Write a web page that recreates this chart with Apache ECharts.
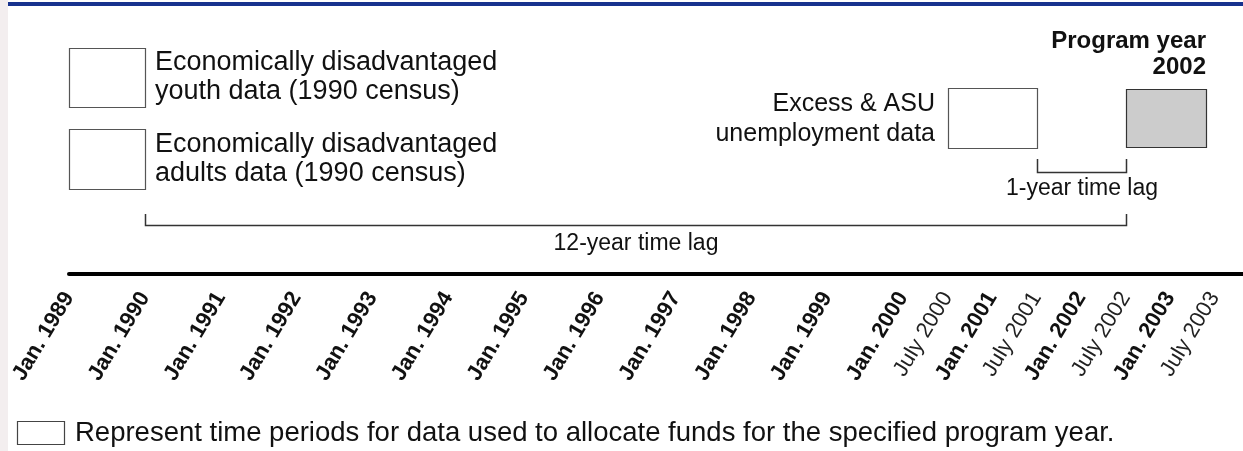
<!DOCTYPE html>
<html>
<head>
<meta charset="utf-8">
<script src="https://cdn.jsdelivr.net/npm/echarts@6/dist/echarts.min.js"></script>
<style>
  html, body { margin: 0; padding: 0; background: #fff; }
  #chart { width: 1243px; height: 451px; }
</style>
</head>
<body>
<div id="chart"></div>
<script>
// axis ticks, in decimal years (.5 = July)
const janYears = [1989, 1990, 1991, 1992, 1993, 1994, 1995, 1996, 1997, 1998, 1999];
const janLabels = ['Jan. 1989', 'Jan. 1990', 'Jan. 1991', 'Jan. 1992', 'Jan. 1993', 'Jan. 1994',
  'Jan. 1995', 'Jan. 1996', 'Jan. 1997', 'Jan. 1998', 'Jan. 1999'];
const recentTicks = [2000, 2000.5, 2001, 2001.5, 2002, 2002.5, 2003, 2003.5];
const recentLabels = ['Jan. 2000', 'July 2000', 'Jan. 2001', 'July 2001', 'Jan. 2002', 'July 2002',
  'Jan. 2003', 'July 2003'];

// data periods (census era, left part of the timeline)
const censusNames = ['Economically disadvantaged\nyouth data (1990 census)',
  'Economically disadvantaged\nadults data (1990 census)'];
const censusStart = [1989, 1989];
const censusEnd = [1990, 1990];

// data periods (recent, right part of the timeline)
const recentNames = ['Excess & ASU\nunemployment data', 'Program year\n2002'];
const recentStart = [2000.5, 2002.5];
const recentEnd = [2001.5, 2003.4];

// time lags
const lagNames = ['12-year time lag', '1-year time lag'];
const lagStart = [1990, 2001.5];
const lagEnd = [2002.5, 2002.5];

const FONT = '"Liberation Sans", Arial, Helvetica, sans-serif';
const INK = '#111';

// layout of the boxes / captions (pixels)
const censusLayout = [
  {top: 48, height: 59, caption: 'right', fontSize: 27, lineHeight: 29},
  {top: 129, height: 60, caption: 'right', fontSize: 27, lineHeight: 29}
];
const recentLayout = [
  {top: 88, height: 60, caption: 'left', fontSize: 25, lineHeight: 30},
  {top: 89, height: 58, caption: 'above', fontSize: 24, lineHeight: 26, fontWeight: 'bold',
    fill: '#cccccc', stroke: '#333'}
];
const lagLayout = [
  {tickTop: 214, lineY: 225, textY: 244},
  {tickTop: 159, lineY: 172, textY: 189}
];

function periodRenderer(names, layout) {
  return function (params, api) {
    const i = params.dataIndex;
    const L = layout[i];
    const x0 = Math.round(api.coord([api.value(0), 0])[0]);
    const x1 = Math.round(api.coord([api.value(1), 0])[0]);
    let tx, ty, align;
    if (L.caption === 'right') {
      tx = x1 + 10; ty = L.top + L.height / 2; align = 'left';
    } else if (L.caption === 'left') {
      tx = x0 - 13; ty = L.top + L.height / 2 + 1; align = 'right';
    } else {
      tx = x1; ty = L.top - 35; align = 'right';
    }
    return {
      type: 'group',
      children: [
        {
          type: 'rect',
          shape: {x: x0 + 0.5, y: L.top + 0.5, width: x1 - x0, height: L.height},
          style: {fill: L.fill || '#fff', stroke: L.stroke || '#555', lineWidth: 1.2}
        },
        {
          type: 'text',
          style: {
            text: names[i], x: tx, y: ty, align: align, verticalAlign: 'middle',
            fontSize: L.fontSize, lineHeight: L.lineHeight, fontWeight: L.fontWeight || 'normal',
            fontFamily: FONT, fill: INK
          }
        }
      ]
    };
  };
}

function axisCommon() {
  return {
    type: 'value',
    axisLine: {show: true, lineStyle: {color: '#000', width: 4}},
    axisTick: {show: false},
    splitLine: {show: false}
  };
}

const chart = echarts.init(document.getElementById('chart'));

const staticGraphics = [
  {id: 'leftStrip', type: 'rect', left: 0, top: 0, shape: {width: 8, height: 451},
    style: {fill: '#f3eeef'}, silent: true},
  {id: 'topBar', type: 'rect', left: 8, top: 2, shape: {width: 1235, height: 4},
    style: {fill: '#17328e'}, silent: true},
  {id: 'noteBox', type: 'rect', shape: {x: 17.5, y: 421.5, width: 47, height: 23},
    style: {fill: '#fff', stroke: '#444', lineWidth: 1.2}},
  {id: 'noteText', type: 'text', x: 75, y: 433,
    style: {text: 'Represent time periods for data used to allocate funds for the specified program year.',
      fontSize: 27.5, fontFamily: FONT, fill: INK, verticalAlign: 'middle', align: 'left'}}
];

chart.setOption({
  backgroundColor: '#fff',
  animation: false,
  grid: [
    {left: 69, top: 0, width: 834, height: 274, outerBoundsMode: 'none'},
    {left: 903, top: 0, width: 340, height: 274, outerBoundsMode: 'none'}
  ],
  xAxis: [
    Object.assign(axisCommon(), {
      gridIndex: 0, min: 1989, max: 2000,
      axisLabel: {
        customValues: janYears, rotate: 59, margin: 20,
        fontSize: 22, fontWeight: 'bold', fontFamily: FONT, color: INK,
        formatter: v => janLabels[janYears.indexOf(v)]
      }
    }),
    Object.assign(axisCommon(), {
      gridIndex: 1, min: 2000, max: 2003.82,
      axisLabel: {
        customValues: recentTicks, rotate: 59, margin: 20, fontFamily: FONT, color: INK,
        formatter: v => {
          const s = recentLabels[recentTicks.indexOf(v)];
          return s.indexOf('Jan') === 0 ? '{b|' + s + '}' : '{r|' + s + '}';
        },
        rich: {
          b: {fontSize: 22, fontWeight: 'bold', fontFamily: FONT, color: INK},
          r: {fontSize: 22, fontWeight: 'normal', fontFamily: FONT, color: '#222'}
        }
      }
    })
  ],
  yAxis: [
    {gridIndex: 0, type: 'value', min: 0, max: 1, show: false},
    {gridIndex: 1, type: 'value', min: 0, max: 1, show: false}
  ],
  series: [
    {
      type: 'custom', name: 'census', xAxisIndex: 0, yAxisIndex: 0,
      renderItem: periodRenderer(censusNames, censusLayout),
      encode: {x: [0, 1]},
      data: censusStart.map((s, i) => [s, censusEnd[i]])
    },
    {
      type: 'custom', name: 'recent', xAxisIndex: 1, yAxisIndex: 1,
      renderItem: periodRenderer(recentNames, recentLayout),
      encode: {x: [0, 1]},
      data: recentStart.map((s, i) => [s, recentEnd[i]])
    }
  ],
  graphic: {elements: staticGraphics}
});

// brackets span both axes, so place them through the axes' own pixel conversion
function toPx(t) {
  return t < 2000 ? chart.convertToPixel({xAxisIndex: 0}, t) : chart.convertToPixel({xAxisIndex: 1}, t);
}

const lagGraphics = [];
lagNames.forEach((name, i) => {
  const L = lagLayout[i];
  const x0 = Math.round(toPx(lagStart[i])) + 0.5;
  const x1 = Math.round(toPx(lagEnd[i])) + 0.5;
  lagGraphics.push({
    id: 'lagLine' + i, type: 'polyline',
    shape: {points: [[x0, L.tickTop], [x0, L.lineY + 0.5], [x1, L.lineY + 0.5], [x1, L.tickTop]]},
    style: {fill: null, stroke: '#333', lineWidth: 1.5}
  });
  lagGraphics.push({
    id: 'lagText' + i, type: 'text', x: (x0 + x1) / 2, y: L.textY,
    style: {text: name, fontSize: 23, fontFamily: FONT, fill: INK, align: 'center', verticalAlign: 'middle'}
  });
});

chart.setOption({graphic: {elements: staticGraphics.concat(lagGraphics)}});
</script>
</body>
</html>
